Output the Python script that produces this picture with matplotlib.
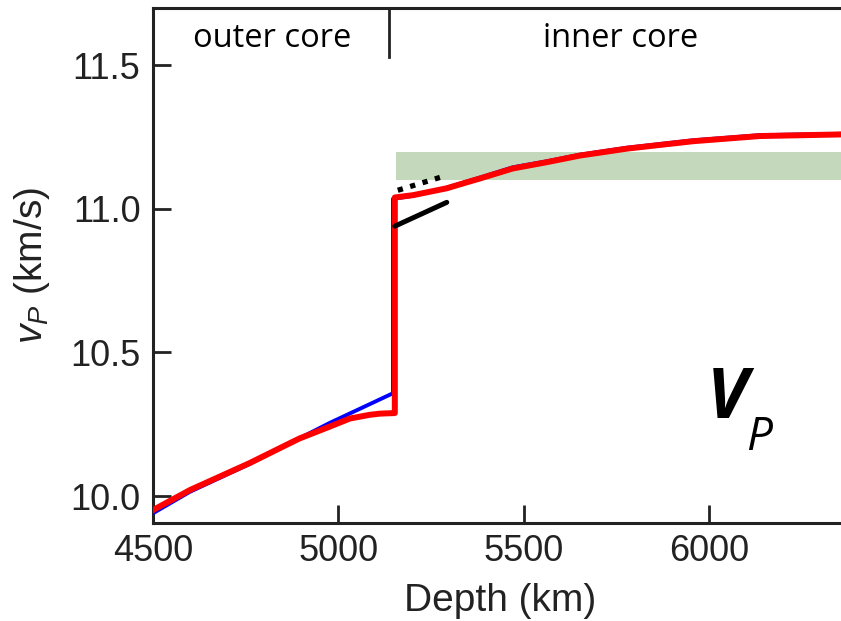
import matplotlib
matplotlib.use("Agg")
import matplotlib.pyplot as plt

# ==========================================
# DATA
# ==========================================
# red model: P-wave velocity vs depth
red_depth = [4500, 4600, 4761, 4869, 4896, 4977, 5031, 5085, 5112, 5152, 5152,
             5201, 5292, 5336, 5381, 5470, 5562, 5651, 5777, 5956, 6136, 6371]
red_vp = [9.951, 10.021, 10.115, 10.184, 10.201, 10.242, 10.270, 10.283, 10.287, 10.289, 11.040,
          11.048, 11.072, 11.089, 11.106, 11.141, 11.163, 11.186, 11.210, 11.236, 11.254, 11.260]

# blue model: mostly hidden below the red one
blue_depth = [4500, 4600, 4761, 4869, 4977, 5147, 5147,
              5201, 5292, 5381, 5470, 5562, 5651, 5777, 5956, 6136, 6371]
blue_vp = [9.940, 10.015, 10.112, 10.184, 10.255, 10.358, 11.035,
           11.046, 11.074, 11.109, 11.145, 11.166, 11.189, 11.213, 11.239, 11.257, 11.262]

# observed range (green band)
band_depth = [5155, 6371]
band_low, band_high = 11.10, 11.20

# gradient markers at the top of the inner core
solid_depth = [5152, 5292]
solid_vp = [10.940, 11.023]
dotted_depth = [5160, 5274]
dotted_vp = [11.065, 11.110]

# inner-core boundary marker
icb_depth = 5137
icb_vp = [11.53, 11.70]

x_ticks = [4500, 5000, 5500, 6000]
y_ticks = [10.0, 10.5, 11.0, 11.5]
x_lim = (4500, 6371)
y_lim = (9.906, 11.70)

LABEL_FONT = "Liberation Sans"
NOTE_FONT = "Open Sans"


def plot_vp_profile() -> None:
    plt.rcParams["mathtext.fontset"] = "custom"
    plt.rcParams["mathtext.rm"] = LABEL_FONT
    plt.rcParams["mathtext.it"] = LABEL_FONT + ":italic"

    fig = plt.figure(figsize=(8.41, 6.21), dpi=100)
    ax = fig.add_axes([0.1819, 0.1578, 0.8252, 0.8293])

    # green band
    ax.fill_between(band_depth, band_low, band_high, color="#c4d9bb", lw=0, zorder=1)

    # velocity curves
    ax.plot(blue_depth, blue_vp, color="#0000ff", lw=2.8, zorder=3,
            solid_joinstyle="round")
    ax.plot(red_depth, red_vp, color="#ff0000", lw=4.3, zorder=4,
            solid_joinstyle="round")

    # gradient markers
    ax.plot(solid_depth, solid_vp, color="black", lw=3.6, solid_capstyle="round", zorder=5)
    ax.plot(dotted_depth, dotted_vp, color="black", lw=3.8, dashes=(1, 1.45),
            dash_capstyle="butt", zorder=5)

    # boundary tick between outer and inner core
    ax.plot([icb_depth, icb_depth], icb_vp, color="#222222", lw=2.0, zorder=5,
            clip_on=False)

    ax.text(4821, 11.594, "outer core", fontsize=23.5, family=NOTE_FONT,
            ha="center", va="center")
    ax.text(5761, 11.594, "inner core", fontsize=23.5, family=NOTE_FONT,
            ha="center", va="center")

    # big V_P annotation
    ax.text(6048, 10.271, "V", fontsize=50, family=NOTE_FONT, style="italic",
            weight="bold", ha="center", va="baseline")
    ax.text(6100, 10.160, "P", fontsize=33, family=NOTE_FONT, style="italic",
            ha="left", va="baseline")

    ax.set_xlim(*x_lim)
    ax.set_ylim(*y_lim)
    ax.set_xticks(x_ticks)
    ax.set_yticks(y_ticks)
    ax.set_yticklabels([f"{v:.1f}" for v in y_ticks])

    for spine in ax.spines.values():
        spine.set_linewidth(2.2)
        spine.set_color("#222222")

    ax.tick_params(direction="in", length=13, width=2.0, color="#222222",
                   labelsize=26, labelcolor="#222222")
    ax.tick_params(axis="x", pad=8)
    ax.tick_params(axis="y", pad=9)
    for lab in ax.get_xticklabels() + ax.get_yticklabels():
        lab.set_family(LABEL_FONT)

    ax.set_xlabel("Depth (km)", fontsize=28, family=LABEL_FONT, color="#222222",
                  labelpad=10)
    ax.set_ylabel("$v_P$ (km/s)", fontsize=28, family=LABEL_FONT, color="#222222",
                  labelpad=13)

    fig.savefig("out.png", dpi=100)
    plt.close(fig)


if __name__ == "__main__":
    plot_vp_profile()
